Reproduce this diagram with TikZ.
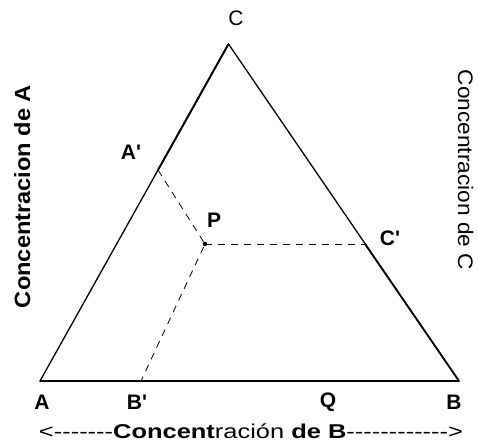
\documentclass[tikz,border=0pt]{standalone}
\usepackage{fontspec}
\usepackage{graphicx}
\newfontfamily\lab{Liberation Sans}
\newcommand\dd{-\kern0pt}
\begin{document}
\begin{tikzpicture}[x=1pt,y=-1pt,
  edge/.style={line width=1.3pt, line join=miter},
  guide/.style={line width=0.8pt, dash pattern=on 7pt off 6pt},
  lbl/.style={font=\lab\bfseries\fontsize{21}{21}\selectfont, inner sep=0pt},
  lblr/.style={font=\lab\fontsize{21}{21}\selectfont, inner sep=0pt},
]
\useasboundingbox (0,0) rectangle (478,444);
\fill[white] (0,0) rectangle (478,444);
\coordinate (A) at (40,381);
\coordinate (B) at (459,381);
\coordinate (C) at (228.5,44);
\coordinate (Ap) at (158,170);
\coordinate (Cp) at (365,244);
\coordinate (P) at (205,244);
\coordinate (Bp) at (141,381);
\draw[edge] (A) -- (B) -- (C) -- cycle;
\draw[line width=1.9pt] (Ap) -- (C);
\draw[line width=1.7pt] (Cp) -- (B);
\draw[line width=1.8pt] (A) -- (B);
\draw[guide] (Ap) -- (P) -- (Bp);
\draw[guide] (P) -- (Cp);
\fill (P) circle (2.2pt);
\node[lblr] (lC) at (236,18) {C};
\node[lbl] (lAp) at (131,152) {A'};
\node[lbl] (lP) at (214,220) {P};
\node[lbl] (lCp) at (390,238) {C'};
\node[lbl] (lA) at (42,402) {A};
\node[lbl] (lBp) at (137,402) {B'};
\node[lbl] (lQ) at (328,402) {Q};
\node[lbl] (lB) at (454,402) {B};
\node[inner sep=0pt, anchor=base] (bottom) at (251,438)
  {\resizebox{424pt}{\height}{\lab\fontsize{20}{20}\selectfont <\dd\dd\dd\dd\dd\dd\dd{\bfseries Concent}ración {\bfseries de B}\dd\dd\dd\dd\dd\dd\dd\dd\dd\dd\dd\dd>}};
\node[inner sep=0pt, anchor=base, rotate=90] (left) at (30,196.5)
  {\resizebox{223pt}{\height}{\lab\bfseries\fontsize{22}{22}\selectfont Concentracion de A}};
\node[inner sep=0pt, anchor=base, rotate=-90] (right) at (458,170)
  {\resizebox{200pt}{\height}{\lab\fontsize{21}{21}\selectfont Concentracion de C}};
\end{tikzpicture}
\end{document}
